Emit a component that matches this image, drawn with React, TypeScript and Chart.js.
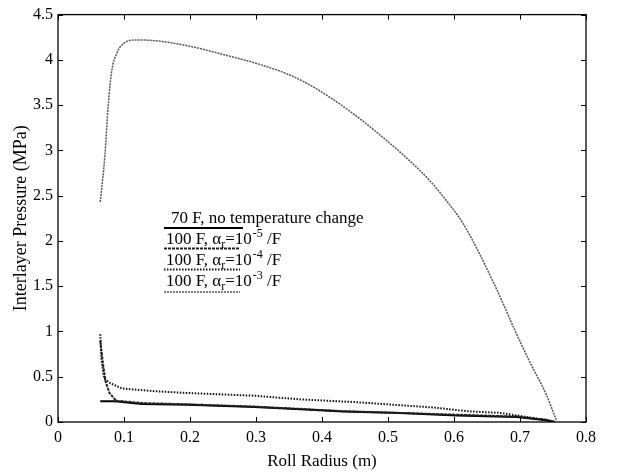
import React, { useEffect, useRef } from 'react';
import { Chart, registerables } from 'chart.js';

Chart.register(...registerables);

// ---- data ----
const radius70 = [0.064, 0.086, 0.127, 0.197, 0.298, 0.367, 0.432, 0.518, 0.604, 0.695, 0.74, 0.753];
const pressure70 = [0.23, 0.23, 0.2, 0.19, 0.165, 0.14, 0.117, 0.1, 0.073, 0.055, 0.02, 0];

const radiusA5 = [0.064, 0.068, 0.072, 0.078, 0.088, 0.127, 0.197, 0.298, 0.367, 0.432, 0.518, 0.604, 0.695, 0.74, 0.753];
const pressureA5 = [0.9, 0.65, 0.45, 0.32, 0.235, 0.21, 0.195, 0.17, 0.145, 0.12, 0.1, 0.08, 0.06, 0.025, 0];

const radiusA4 = [0.064, 0.066, 0.07, 0.079, 0.097, 0.147, 0.197, 0.298, 0.367, 0.45, 0.569, 0.619, 0.67, 0.72, 0.753];
const pressureA4 = [0.97, 0.68, 0.48, 0.43, 0.37, 0.34, 0.32, 0.29, 0.25, 0.22, 0.16, 0.12, 0.1, 0.045, 0];

const radiusA3 = [0.064, 0.071, 0.076, 0.081, 0.089, 0.099, 0.119, 0.15, 0.2, 0.25, 0.301, 0.352, 0.387, 0.437, 0.488, 0.538, 0.564, 0.589, 0.614, 0.665, 0.69, 0.715, 0.74, 0.755];
const pressureA3 = [2.43, 2.94, 3.49, 3.86, 4.07, 4.18, 4.22, 4.21, 4.15, 4.06, 3.96, 3.83, 3.7, 3.46, 3.17, 2.85, 2.66, 2.44, 2.19, 1.46, 1.05, 0.66, 0.3, 0.02];

const xTickValues = [0, 0.1, 0.2, 0.3, 0.4, 0.5, 0.6, 0.7, 0.8];
const yTickValues = [0, 0.5, 1, 1.5, 2, 2.5, 3, 3.5, 4, 4.5];

const xTitle = 'Roll Radius (m)';
const yTitle = 'Interlayer Pressure (MPa)';
const legendFirst = '70 F, no temperature change';
const legendPrefix = '100 F, ';
const legendAlpha = 'α';
const legendSub = 'r';
const legendEq = '=10';
const legendExps = ['-5', '-4', '-3'];
const legendUnit = ' /F';

const FAMILY = '"Liberation Serif", "Times New Roman", serif';

const styles = [
  { color: '#000', width: 2, dash: [] as number[] },
  { color: '#222', width: 2, dash: [3, 1] },
  { color: '#111', width: 2, dash: [1.5, 1.5] },
  { color: '#555', width: 1.5, dash: [2, 1] },
];

const toPoints = (xs: number[], ys: number[]) => xs.map((x, i) => ({ x, y: ys[i] }));

const framePlugin = {
  id: 'frame',
  beforeDraw(chart: any) {
    const { ctx, width, height } = chart;
    ctx.save();
    ctx.fillStyle = '#fff';
    ctx.fillRect(0, 0, width, height);
    ctx.restore();
  },
  afterDraw(chart: any) {
    const { ctx, chartArea } = chart;
    const { left, right, top, bottom } = chartArea;
    const xs = chart.scales.x;
    const ys = chart.scales.y;
    ctx.save();
    ctx.strokeStyle = '#000';
    ctx.lineWidth = 1.3;
    ctx.strokeRect(left, top, right - left, bottom - top);
    ctx.lineWidth = 1;
    const L = 5;
    ctx.beginPath();
    xTickValues.forEach((v) => {
      const px = Math.round(xs.getPixelForValue(v)) + 0.5;
      ctx.moveTo(px, bottom);
      ctx.lineTo(px, bottom - L);
      ctx.moveTo(px, top);
      ctx.lineTo(px, top + L);
    });
    yTickValues.forEach((v) => {
      const py = Math.round(ys.getPixelForValue(v)) + 0.5;
      ctx.moveTo(left, py);
      ctx.lineTo(left + L, py);
      ctx.moveTo(right, py);
      ctx.lineTo(right - L, py);
    });
    ctx.stroke();
    ctx.restore();
  },
};

const legendPlugin = {
  id: 'customLegend',
  afterDraw(chart: any) {
    const ctx = chart.ctx;
    ctx.save();
    ctx.fillStyle = '#000';
    ctx.textBaseline = 'alphabetic';
    ctx.textAlign = 'left';
    const main = `17px ${FAMILY}`;
    const small = `12px ${FAMILY}`;

    const drawSample = (i: number, x0: number, x1: number, y: number) => {
      const s = styles[i];
      ctx.save();
      ctx.strokeStyle = s.color;
      ctx.lineWidth = s.width;
      ctx.setLineDash(s.dash);
      ctx.beginPath();
      ctx.moveTo(x0, y);
      ctx.lineTo(x1, y);
      ctx.stroke();
      ctx.restore();
    };

    // row 1
    ctx.font = main;
    ctx.fillText(legendFirst, 171, 223);
    drawSample(0, 164, 243, 228);

    const baselines = [244, 265, 286];
    const sampleY = [248.5, 269.5, 292];
    legendExps.forEach((exp, k) => {
      const b = baselines[k];
      let x = 166;
      ctx.font = main;
      ctx.fillText(legendPrefix, x, b);
      x += ctx.measureText(legendPrefix).width;
      ctx.fillText(legendAlpha, x, b);
      x += ctx.measureText(legendAlpha).width;
      ctx.font = small;
      ctx.fillText(legendSub, x, b + 4);
      x += ctx.measureText(legendSub).width;
      ctx.font = main;
      ctx.fillText(legendEq, x, b);
      x += ctx.measureText(legendEq).width;
      ctx.font = small;
      ctx.fillText(exp, x + 1, b - 7);
      x += ctx.measureText(exp).width + 1;
      ctx.font = main;
      ctx.fillText(legendUnit, x, b);
      drawSample(k + 1, 164, 240, sampleY[k]);
    });
    ctx.restore();
  },
};

export default function App() {
  const ref = useRef<HTMLCanvasElement>(null);
  useEffect(() => {
    const makeDs = (label: string, xs: number[], ys: number[], i: number, smooth: boolean) => ({
      label,
      data: toPoints(xs, ys),
      showLine: true,
      borderColor: styles[i].color,
      borderWidth: styles[i].width,
      borderDash: styles[i].dash,
      pointRadius: 0,
      fill: false,
      tension: 0,
      cubicInterpolationMode: smooth ? 'monotone' : 'default',
    });
    const fmt = (v: any) => `${Math.round(Number(v) * 10) / 10}`;
    const chart = new Chart(ref.current as HTMLCanvasElement, {
      type: 'scatter',
      data: {
        datasets: [
          makeDs('α=1e-3', radiusA3, pressureA3, 3, true),
          makeDs('α=1e-4', radiusA4, pressureA4, 2, false),
          makeDs('α=1e-5', radiusA5, pressureA5, 1, false),
          makeDs('70 F', radius70, pressure70, 0, false),
        ],
      },
      options: {
        responsive: false,
        animation: false,
        layout: { padding: { top: 13, right: 31, bottom: 0, left: 0 } },
        plugins: { legend: { display: false }, tooltip: { enabled: false } },
        scales: {
          x: {
            type: 'linear',
            min: 0,
            max: 0.8,
            afterBuildTicks: (s: any) => {
              s.ticks = xTickValues.map((v) => ({ value: v }));
            },
            ticks: { color: '#000', font: { family: FAMILY, size: 16 }, padding: 6, maxRotation: 0, autoSkip: false, callback: fmt },
            grid: { display: false, drawTicks: false },
            border: { display: false },
            title: { display: true, text: xTitle, color: '#000', font: { family: FAMILY, size: 17 }, padding: { top: 0, bottom: 1 } },
            afterFit: (s: any) => {
              s.height = 51;
            },
          },
          y: {
            type: 'linear',
            min: 0,
            max: 4.5,
            afterBuildTicks: (s: any) => {
              s.ticks = yTickValues.map((v) => ({ value: v }));
            },
            ticks: { color: '#000', font: { family: FAMILY, size: 16 }, padding: 5, autoSkip: false, callback: fmt },
            grid: { display: false, drawTicks: false },
            border: { display: false },
            title: { display: true, text: yTitle, color: '#000', font: { family: FAMILY, size: 18 }, padding: { top: 10, bottom: 0 } },
            afterFit: (s: any) => {
              s.width = 58;
            },
          },
        },
      } as any,
      plugins: [framePlugin, legendPlugin],
    });
    return () => chart.destroy();
  }, []);
  return (
    <div style={{ position: 'absolute', left: 0, top: 0, width: 617, height: 473, background: '#fff' }}>
      <canvas ref={ref} width={617} height={473} style={{ display: 'block', width: 617, height: 473 }} />
    </div>
  );
}
